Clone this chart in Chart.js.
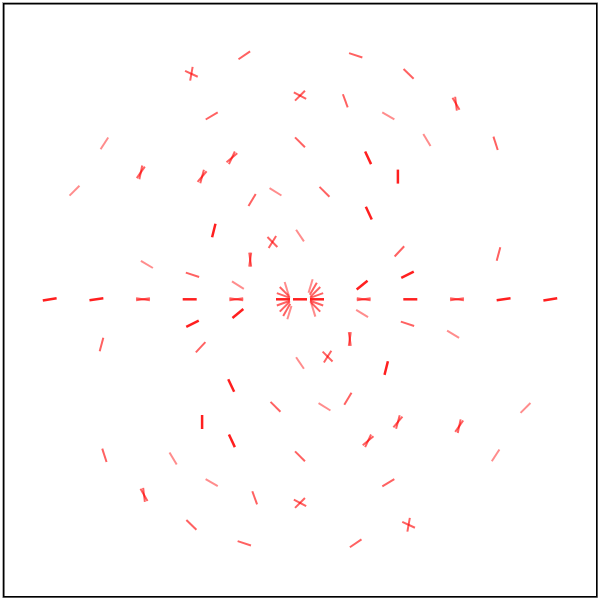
<!DOCTYPE html>
<html>
<head>
<meta charset="utf-8">
<script src="https://cdn.jsdelivr.net/npm/chart.js@4/dist/chart.umd.min.js"></script>
<style>
  html, body { margin: 0; padding: 0; background: #fff; }
  #wrap { position: relative; width: 600px; height: 600px; }
</style>
</head>
<body>
<div id="wrap"><canvas id="c" width="600" height="600"></canvas></div>
<script>
// ---- data (x, y relative to centre, rotation in degrees) ----
const lightX   = [-195.6, 195.6, -225.5, 225.5, 126.9, -126.9, 88.3, -88.3, -153.1, 153.1, -24.5, 24.5, 0, 0, -62.1, 62.1, 10.6, -10.6, -13.3, 13.3];
const lightY   = [156, -156, 108.6, -108.6, 159.2, -159.2, 183.4, -183.4, 34.9, -34.9, 107.5, -107.5, 63.7, -63.7, 14.2, -14.2, 13.3, -13.3, 10.6, -10.6];
const lightRot = [-57, -57, -45, -45, 59, 59, 30, 30, 31, 31, 32, 32, 56, 56, 32, 32, -73, -73, 73, 73];

const mediumX = [
  195.6, -195.6, 108.6, -108.6, 55.7, -55.7, -55.7, 55.7,
  198.5, -198.5, 45.3, -45.3, -88.3, 88.3, 0, 0,
  99.4, -99.4, 24.5, -24.5, -47.9, 47.9, -107.5, 107.5,
  -15.3, -16.6, -16.6, -15.3, -13.3, 15.3, 16.6, 16.6, 15.3, 13.3,
  156, 156, -156, -156, -108.6, -108.6, 108.6, 108.6,
  0, 0, 0, 0, -159.2, -159.2, 159.2, 159.2,
  -68.1, -68.1, 68.1, 68.1, -97.9, -97.9, 97.9, 97.9,
  -27.6, -27.6, 27.6, 27.6, -49.8, -49.8, 49.8, 49.8,
  63.7, 63.7, -63.7, -63.7, 157, 157, -157, -157
];
const mediumY = [
  156, -156, 225.5, -225.5, 244, -244, 244, -244,
  45.3, -45.3, 198.5, -198.5, 183.4, -183.4, 157, -157,
  47.9, -47.9, 107.5, -107.5, 99.4, -99.4, 24.5, -24.5,
  7.4, 3.8, -3.8, -7.4, -10.6, -7.4, -3.8, 3.8, 7.4, 10.6,
  195.6, 195.6, -195.6, -195.6, 225.5, 225.5, -225.5, -225.5,
  203.6, 203.6, -203.6, -203.6, 126.9, 126.9, -126.9, -126.9,
  141.5, 141.5, -141.5, -141.5, 122.7, 122.7, -122.7, -122.7,
  57.3, 57.3, -57.3, -57.3, 39.7, 39.7, -39.7, -39.7,
  0, 0, 0, 0, 0, 0, 0, 0
];
const mediumRot = [
  72, 72, 44, 44, 18, 18, -34, -34,
  -75, -75, 70, 70, -31, -31, 45, 45,
  -47, -47, 45, 45, -59, -59, 18, 18,
  45, 20, -20, -45, -60, 45, 20, -20, -45, -60,
  83, 60, 83, 60, -80, 25, -80, 25,
  28, -45, 28, -45, -55, -78, -55, -78,
  -40, -65, -40, -65, -50, -75, -50, -75,
  45, -58, 45, -58, 82, -82, 82, -82,
  8, -8, 8, -8, 8, -8, 8, -8
];

const darkX   = [250.3, -250.3, 203.6, -203.6, 97.9, -97.9, 68.1, -68.1, 110.3, -110.3, 107.5, -107.5, 68.8, -68.8, -86.2, 86.2, 62.1, -62.1, 17, -17, 0];
const darkY   = [0, 0, 0, 0, 122.7, -122.7, 141.5, -141.5, 0, 0, 24.5, -24.5, 86.2, -86.2, 68.8, -68.8, 14.2, -14.2, 0, 0, 0];
const darkRot = [-9, -9, -8, -8, 90, 90, 65, 65, 0, 0, -27, -27, 65, 65, -76, -76, -39, -39, 0, 0, 0];

function pts(xs, ys) { return xs.map((x, i) => ({ x: x, y: ys[i] })); }

function ds(label, xs, ys, rots, color, width) {
  return {
    label: label,
    data: pts(xs, ys),
    pointStyle: 'line',
    pointRadius: 7,
    pointHoverRadius: 7,
    pointBorderWidth: width,
    pointHoverBorderWidth: width,
    pointRotation: rots,
    pointBorderColor: color,
    pointBackgroundColor: color,
    borderColor: color,
    backgroundColor: color,
    showLine: false,
    clip: false
  };
}

const framePlugin = {
  id: 'frame',
  afterDraw(chart) {
    const ctx = chart.ctx;
    ctx.save();
    ctx.strokeStyle = '#b0b0b0';
    ctx.lineWidth = 1;
    ctx.strokeRect(2.5, 2.5, 595, 595);
    ctx.strokeStyle = '#000';
    ctx.lineWidth = 1.5;
    ctx.strokeRect(3.75, 3.75, 593, 593);
    ctx.restore();
  }
};

new Chart(document.getElementById('c'), {
  type: 'scatter',
  data: {
    datasets: [
      ds('light', lightX, lightY, lightRot, 'rgba(255,0,0,0.45)', 2),
      ds('medium', mediumX, mediumY, mediumRot, 'rgba(255,0,0,0.62)', 2),
      ds('dark', darkX, darkY, darkRot, 'rgba(255,0,0,0.88)', 2.5)
    ]
  },
  options: {
    responsive: false,
    animation: false,
    events: [],
    layout: { autoPadding: false, padding: { left: 4, top: 4, right: 3, bottom: 3 } },
    plugins: { legend: { display: false }, tooltip: { enabled: false } },
    scales: {
      x: { type: 'linear', min: -296, max: 297, display: false },
      y: { type: 'linear', min: -297.7, max: 295.3, display: false }
    }
  },
  plugins: [framePlugin]
});
</script>
</body>
</html>
